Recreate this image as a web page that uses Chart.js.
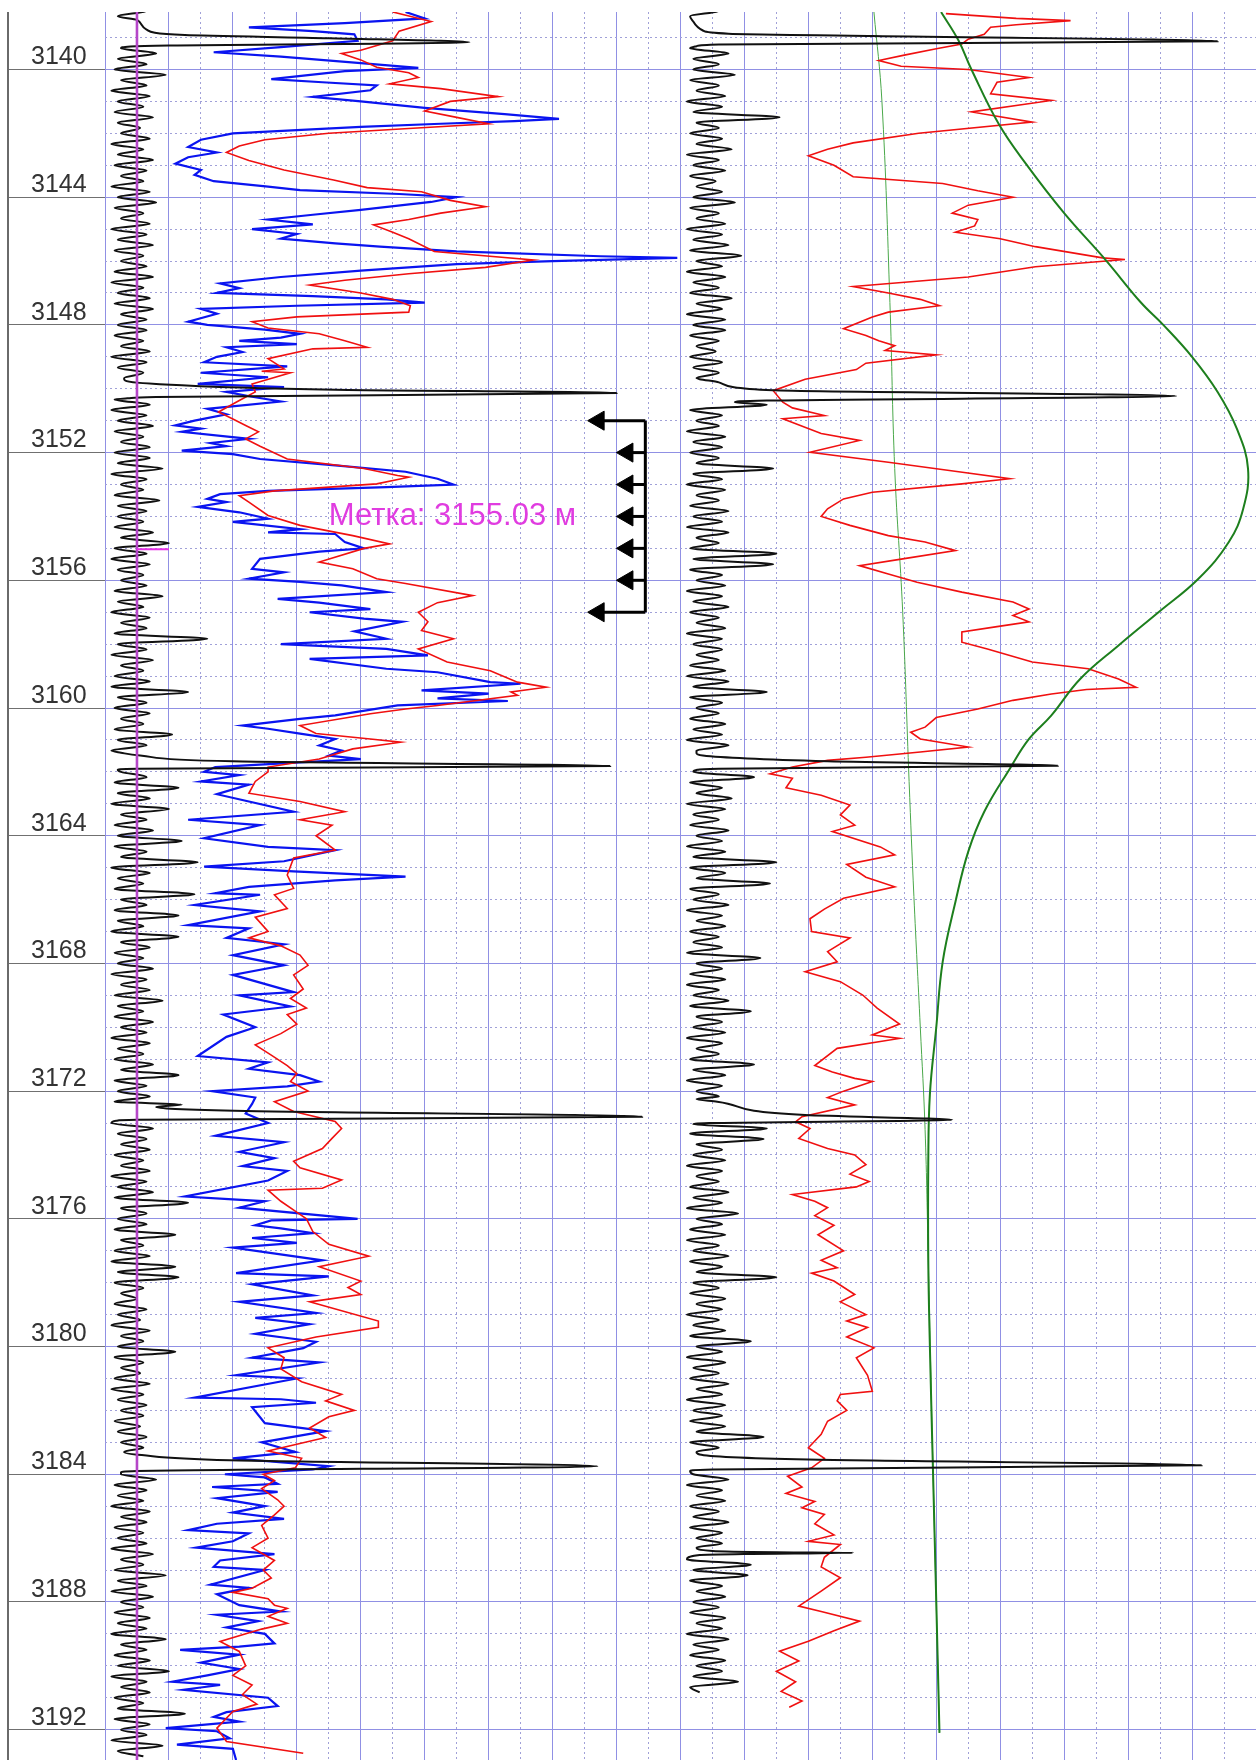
<!DOCTYPE html>
<html>
<head>
<meta charset="utf-8">
<script src="https://cdn.jsdelivr.net/npm/chart.js@4.4.1/dist/chart.umd.min.js"></script>
<style>
  html, body { margin: 0; padding: 0; background: #fff; }
  body { width: 1259px; height: 1760px; position: relative; overflow: hidden; }
  #log { display: block; position: absolute; left: 0; top: 12px; }
</style>
</head>
<body>
<canvas id="log" width="1256" height="1748"></canvas>
<script>
// Depth window (m)
const depthTop = 3138.2;
const depthBottom = 3192.95;

// Collar locator wiggle, track 1: one reading every 1/6 m from 3138.0
const cclStart = 3138.0;
const cclStep = 1 / 6;
const cclWiggle1 = [
  0.6,1.3,0.4,1.5,0.5,1.2,0.3,1.4,0.5,1.6,0.4,1.3,
  0.3,1.9,0.5,1.3,0.2,1.4,0.4,1.2,0.3,1.5,0.4,1.1,
  0.5,1.4,0.2,1.2,0.4,1.5,0.3,1.3,0.5,1.2,0.2,1.4,
  0.4,1.6,0.3,1.2,0.5,1.4,0.2,1.3,0.4,1.5,0.3,1.2,
  0.5,1.3,0.3,1.5,0.2,1.2,0.4,1.4,0.3,1.5,0.5,1.3,
  0.4,1.3,0.3,1.2,0.5,1.4,0.2,1.3,0.4,1.2,0.6,1.5,
  0.5,1.7,0.3,1.4,0.2,1.3,0.4,1.5,0.3,1.2,0.5,1.4,
  0.3,1.4,0.4,1.8,0.2,1.3,0.5,1.2,0.3,1.7,0.4,1.3,
  0.4,1.2,0.3,1.5,0.5,2.0,0.3,1.3,0.2,1.4,0.4,1.2,
  0.5,1.3,0.3,1.8,0.4,1.2,0.2,1.4,0.5,1.3,0.3,3.2,
  0.4,1.3,0.2,1.5,0.5,1.2,0.3,1.4,0.2,2.6,0.4,1.3,
  0.3,1.4,0.5,1.2,0.3,2.1,0.4,1.3,0.2,1.5,0.4,1.3,
  0.5,1.3,0.3,2.3,0.4,1.4,0.2,2.0,0.5,1.3,0.3,1.5,
  0.4,2.4,0.3,1.3,0.5,2.9,0.2,1.4,0.4,1.2,0.3,2.8,
  0.5,1.3,0.3,2.3,0.4,1.2,0.2,2.3,0.5,1.4,0.3,1.2,
  0.4,1.5,0.2,1.3,0.5,1.4,0.3,1.8,0.4,1.2,0.3,1.5,
  0.5,1.3,0.2,1.4,0.4,1.2,0.3,1.5,0.5,2.3,0.3,1.3,
  0.4,1.4,0.3,1.3,0.5,1.2,0.2,1.5,0.4,1.3,0.5,1.4,
  0.3,1.2,0.5,1.4,0.2,1.3,0.4,1.5,0.3,2.6,0.5,1.3,
  0.4,1.3,0.3,2.2,0.5,1.2,0.3,1.4,0.2,2.2,0.4,2.3,
  0.3,1.2,0.5,1.0,0.3,1.3,0.4,1.1,0.2,1.4,0.5,1.2,
  0.4,2.2,0.3,1.2,0.5,1.1,0.3,1.4,0.2,1.2,0.4,1.3,
  0.5,1.2,0.3,1.1,0.4,1.3,0.5,1.2,0.3,1.0,0.6,1.1,
  0.5,1.6,0.3,1.3,0.4,1.2,0.2,1.4,0.5,1.3,0.3,1.2,
  0.4,1.3,0.2,1.5,0.5,1.2,0.3,1.9,0.4,1.3,0.2,1.5,
  0.5,1.2,0.3,1.4,0.4,1.3,0.2,1.9,0.5,1.3,0.3,1.4,
  0.4,2.0,0.2,1.3,0.5,1.4,0.3,1.2,0.4,2.5,0.3,1.4,
  0.5,1.3,0.2,1.8,0.4,1.2
];
// Collar spikes, track 1: [depth, value] vertices
const cclSpikes1 = [
  [[3138.45, 1.0], [3138.75, 1.3], [3138.92, 2.5], [3139.02, 7.0], [3139.15, 11.4], [3139.25, 2.0], [3139.28, 0.8]],
  [[3149.7, 0.6], [3149.85, 1.6], [3150.03, 7.2], [3150.13, 16.0], [3150.26, 1.6], [3150.3, 0.7]],
  [[3161.4, 0.5], [3161.49, 1.1], [3161.67, 4.0], [3161.82, 15.8], [3161.9, 1.0], [3161.93, 0.4]],
  [[3172.35, 0.6], [3172.42, 2.4], [3172.5, 1.6], [3172.56, 2.2], [3172.62, 4.4], [3172.8, 16.8], [3172.9, 1.0], [3172.93, 0.35]],
  [[3183.3, 0.6], [3183.4, 1.15], [3183.56, 3.9], [3183.75, 15.4], [3183.9, 1.0], [3183.94, 0.5]]
];

// Collar locator wiggle, track 2
const cclWiggle2 = [
  0.5,1.2,0.3,1.4,0.5,1.2,0.4,1.3,0.3,1.5,0.4,1.2,
  0.4,1.7,0.3,1.2,0.5,1.4,0.2,1.3,0.4,3.1,0.5,1.2,
  0.3,1.3,0.5,1.6,0.2,1.2,0.4,1.4,0.3,1.1,0.5,1.3,
  0.4,1.7,0.3,1.2,0.5,1.4,0.2,1.3,0.4,1.5,0.3,1.9,
  0.5,1.3,0.2,1.4,0.4,1.2,0.3,1.6,0.5,1.3,0.2,1.4,
  0.4,1.4,0.3,1.2,0.5,1.1,0.3,1.3,0.4,1.2,0.5,1.3,
  0.5,1.4,0.4,2.7,0.3,1.3,0.5,1.2,0.2,1.4,0.4,1.3,
  0.3,1.2,0.5,2.9,0.4,1.3,0.2,1.4,0.5,1.2,0.3,1.5,
  0.4,1.3,0.2,1.5,0.5,1.2,0.3,3.0,0.4,2.9,0.3,1.3,
  0.5,1.4,0.2,1.3,0.4,1.5,0.3,1.2,0.5,1.4,0.2,1.3,
  0.4,1.3,0.5,1.2,0.3,1.4,0.2,1.5,0.4,2.7,0.3,1.3,
  0.5,1.2,0.3,1.4,0.4,1.3,0.2,1.5,0.5,1.2,0.3,1.4,
  0.4,2.3,0.3,1.3,0.5,1.6,0.2,1.4,0.4,1.2,0.3,1.5,
  0.5,1.3,0.2,1.4,0.4,3.0,0.3,1.4,0.5,2.8,0.3,1.2,
  0.4,1.5,0.2,1.3,0.5,1.4,0.3,1.2,0.4,1.3,0.2,2.5,
  0.5,1.3,0.3,1.4,0.2,1.2,0.4,1.5,0.3,2.2,0.5,1.3,
  0.4,1.4,0.2,1.3,0.5,1.2,0.3,2.3,0.4,1.4,0.2,1.3,
  0.5,1.2,0.4,1.3,0.3,1.4,0.4,2.7,0.3,2.6,0.5,1.3,
  0.4,1.4,0.2,1.3,0.5,1.2,0.3,1.5,0.4,1.3,0.2,1.8,
  0.5,1.3,0.3,1.4,0.2,1.2,0.4,1.5,0.3,1.3,0.5,3.0,
  0.4,1.2,0.3,1.4,0.5,1.3,0.2,1.2,0.4,1.4,0.3,2.2,
  0.5,1.3,0.2,1.4,0.4,1.2,0.3,1.5,0.5,1.3,0.2,1.4,
  0.4,1.3,0.3,1.4,0.5,2.6,0.3,1.2,0.4,1.3,0.5,1.2,
  0.4,1.5,0.2,1.3,0.5,1.4,0.3,1.2,0.4,1.5,0.3,1.3,
  0.5,1.3,0.3,1.4,0.2,2.2,0.4,2.1,0.3,1.3,0.5,1.4,
  0.4,1.2,0.3,1.4,0.5,1.3,0.2,1.5,0.4,1.2,0.3,1.4,
  0.5,1.3,0.4,1.8,0.3,0.6
];
const cclSpikes2 = [
  [[3138.5, 0.4], [3138.78, 0.7], [3138.88, 1.5], [3138.95, 6.0], [3139.12, 16.8], [3139.22, 1.2], [3139.27, 0.5]],
  [[3149.7, 0.6], [3149.8, 1.2], [3150.05, 2.9], [3150.23, 15.5], [3150.37, 2.7], [3150.42, 1.7]],
  [[3161.42, 0.5], [3161.49, 0.7], [3161.67, 4.6], [3161.81, 11.8], [3161.9, 1.2], [3161.94, 0.5]],
  [[3172.25, 0.5], [3172.33, 1.15], [3172.75, 3.9], [3172.9, 8.5], [3173.0, 0.9], [3173.04, 0.4]],
  [[3183.3, 0.5], [3183.38, 0.6], [3183.54, 4.0], [3183.72, 16.3], [3183.85, 1.0], [3183.9, 0.3]],
  [[3186.3, 0.5], [3186.4, 1.0], [3186.44, 3.0], [3186.46, 5.4], [3186.5, 2.0], [3186.53, 0.6]]
];

// Track 1 blue curve: [depth, value]
const blueCurve1 = [
  [3138.2,9.4],[3138.4,10.0],[3138.55,7.5],[3138.68,4.5],[3138.8,6.5],[3138.9,7.8],[3139.1,7.9],[3139.3,5.5],
  [3139.46,3.4],[3139.6,5.5],[3139.8,8.0],[3139.95,9.8],[3140.05,7.5],[3140.3,5.2],[3140.4,6.8],[3140.5,8.5],
  [3140.65,8.3],[3140.86,6.5],[3141.0,8.0],[3141.2,10.0],[3141.4,12.5],[3141.55,14.2],[3141.62,12.8],[3141.7,10.5],
  [3141.8,8.0],[3142.0,4.0],[3142.2,3.0],[3142.43,2.6],[3142.6,3.5],[3142.75,2.6],[3142.95,2.2],[3143.15,3.0],
  [3143.3,2.8],[3143.5,3.4],[3143.67,5.1],[3143.78,6.1],[3143.9,9.2],[3144.0,11.0],[3144.15,10.2],[3144.4,8.0],
  [3144.55,6.5],[3144.7,5.1],[3144.85,6.5],[3145.0,4.6],[3145.15,6.0],[3145.3,5.5],[3145.45,7.2],[3145.55,8.6],
  [3145.7,11.0],[3145.85,15.5],[3145.9,17.9],[3146.0,14.0],[3146.1,11.0],[3146.3,8.0],[3146.5,5.5],[3146.7,3.6],
  [3146.85,4.2],[3147.0,3.5],[3147.1,6.5],[3147.2,8.8],[3147.3,10.0],[3147.4,6.0],[3147.5,3.0],[3147.65,3.5],
  [3147.9,2.6],[3148.0,3.2],[3148.15,5.0],[3148.28,6.1],[3148.4,5.5],[3148.5,4.2],[3148.6,6.0],[3148.7,3.8],
  [3148.85,4.3],[3149.0,3.5],[3149.17,3.1],[3149.3,5.7],[3149.5,3.0],[3149.64,5.1],[3149.85,2.9],[3149.95,5.6],
  [3150.1,3.8],[3150.25,4.6],[3150.4,5.5],[3150.63,3.2],[3150.8,3.8],[3151.0,2.8],[3151.15,2.2],[3151.25,3.0],
  [3151.35,2.4],[3151.57,4.5],[3151.7,3.3],[3151.8,3.8],[3151.94,2.4],[3152.05,4.0],[3152.2,4.85],[3152.4,7.2],
  [3152.6,9.4],[3152.82,10.4],[3153.0,10.9],[3153.08,8.8],[3153.2,5.1],[3153.3,3.6],[3153.45,3.2],[3153.55,3.8],
  [3153.7,2.9],[3153.87,4.2],[3154.07,5.1],[3154.17,4.0],[3154.4,6.1],[3154.5,5.1],[3154.55,7.2],[3154.8,7.5],
  [3155.0,8.1],[3155.1,6.7],[3155.33,4.85],[3155.64,4.6],[3155.75,5.6],[3155.95,4.5],[3156.05,6.1],[3156.16,7.4],
  [3156.37,8.8],[3156.58,5.4],[3156.7,6.7],[3156.9,8.3],[3157.0,6.4],[3157.2,8.1],[3157.3,9.3],[3157.6,7.8],
  [3157.83,8.8],[3158.0,5.5],[3158.15,8.8],[3158.35,10.1],[3158.46,6.4],[3158.77,8.8],[3158.88,10.4],[3159.19,12.05],
  [3159.24,13.0],[3159.45,9.9],[3159.55,12.0],[3159.7,10.4],[3159.78,12.6],[3159.92,9.15],[3160.23,7.2],[3160.34,6.1],
  [3160.55,4.3],[3160.65,5.1],[3160.8,6.1],[3160.97,7.2],[3161.17,6.7],[3161.33,7.4],[3161.49,7.0],[3161.6,8.0],
  [3161.7,6.1],[3161.85,3.45],[3162.0,3.1],[3162.1,4.2],[3162.3,3.0],[3162.4,4.5],[3162.7,3.5],[3163.25,5.9],
  [3163.5,2.6],[3163.67,4.85],[3164.08,3.1],[3164.35,5.1],[3164.45,7.2],[3164.8,5.6],[3164.97,3.1],[3165.12,5.9],
  [3165.28,9.4],[3165.4,7.2],[3165.6,4.5],[3165.8,3.45],[3165.85,4.85],[3166.17,2.8],[3166.37,4.85],[3166.8,2.6],
  [3166.9,4.5],[3167.2,3.8],[3167.4,5.6],[3167.74,4.0],[3168.06,5.6],[3168.36,4.0],[3168.9,5.9],[3169.0,4.2],
  [3169.35,5.8],[3169.6,3.7],[3170.0,4.7],[3170.3,3.8],[3170.9,2.9],[3171.1,5.1],[3171.3,4.5],[3171.5,6.1],
  [3171.7,6.7],[3171.85,5.7],[3172.0,3.35],[3172.2,4.7],[3172.4,4.6],[3172.7,4.4],[3173.0,5.1],[3173.4,3.45],
  [3173.6,5.6],[3173.9,4.2],[3174.1,5.3],[3174.35,4.3],[3174.5,5.7],[3174.8,5.1],[3175.3,2.5],[3175.45,5.0],
  [3175.65,4.2],[3176.0,7.9],[3176.05,5.2],[3176.2,4.7],[3176.3,5.5],[3176.45,6.5],[3176.6,4.6],[3176.75,6.0],
  [3176.9,4.0],[3177.3,6.8],[3177.7,4.1],[3177.8,7.0],[3178.05,4.6],[3178.4,6.5],[3178.6,4.2],[3178.95,6.6],
  [3179.1,4.7],[3179.3,6.4],[3179.6,4.7],[3179.85,6.6],[3180.05,6.2],[3180.35,4.6],[3180.5,6.7],[3180.9,4.1],
  [3181.0,6.0],[3181.6,2.8],[3181.65,5.5],[3181.76,6.6],[3181.9,4.6],[3182.4,5.0],[3182.65,6.9],[3183.0,4.9],
  [3183.3,5.95],[3183.5,4.0],[3183.75,7.0],[3183.85,6.5],[3184.0,3.75],[3184.1,5.0],[3184.3,5.4],[3184.4,3.35],
  [3184.55,5.4],[3184.75,3.5],[3185.0,5.0],[3185.2,4.0],[3185.4,5.6],[3185.55,3.5],[3185.75,2.6],[3185.85,4.5],
  [3186.1,4.0],[3186.3,2.85],[3186.5,5.3],[3186.7,3.6],[3186.9,3.4],[3187.0,5.0],[3187.46,3.3],[3187.56,4.5],
  [3187.76,3.5],[3188.1,4.2],[3188.3,5.5],[3188.4,3.5],[3188.6,4.8],[3188.8,3.8],[3189.0,5.0],[3189.3,5.3],
  [3189.4,4.2],[3189.5,2.35],[3189.65,4.2],[3189.9,3.0],[3190.1,4.2],[3190.3,3.2],[3190.5,2.1],[3190.6,3.6],
  [3190.75,2.45],[3191.0,5.1],[3191.26,5.4],[3191.45,3.8],[3191.6,3.4],[3191.75,4.2],[3191.95,1.9],[3192.05,3.5],
  [3192.27,3.9],[3192.47,2.25],[3192.6,4.0],[3192.95,4.1]
];

// Track 1 red curve
const redCurve1 = [
  [3138.2,9.0],[3138.5,10.2],[3138.8,9.2],[3139.1,9.0],[3139.4,8.0],[3139.5,7.4],[3139.7,8.0],[3139.93,8.5],
  [3140.1,9.5],[3140.25,9.8],[3140.45,8.9],[3140.6,10.5],[3140.85,12.3],[3141.0,10.8],[3141.3,10.0],[3141.5,11.0],
  [3141.7,12.0],[3141.85,9.5],[3142.0,7.0],[3142.2,5.0],[3142.4,4.2],[3142.6,3.8],[3142.85,4.5],[3143.15,5.6],
  [3143.46,7.15],[3143.7,8.2],[3143.83,9.9],[3144.1,10.8],[3144.3,11.9],[3144.5,10.5],[3144.7,9.5],[3144.87,8.4],
  [3145.1,9.0],[3145.3,9.5],[3145.7,10.3],[3145.97,13.4],[3146.2,11.9],[3146.4,9.5],[3146.6,7.5],[3146.75,6.4],
  [3147.0,8.0],[3147.2,9.0],[3147.4,9.55],[3147.6,9.5],[3147.75,6.0],[3147.9,4.6],[3148.1,5.1],[3148.28,6.7],
  [3148.5,7.5],[3148.7,8.2],[3148.75,6.5],[3149.06,5.1],[3149.38,5.6],[3149.45,4.9],[3149.5,5.8],[3149.85,4.6],
  [3150.1,4.7],[3150.37,4.2],[3150.73,3.55],[3150.95,4.0],[3151.15,4.4],[3151.35,4.8],[3151.57,4.4],[3151.8,4.85],
  [3152.2,5.7],[3152.5,8.1],[3152.72,9.15],[3152.77,9.5],[3152.98,8.5],[3153.2,5.3],[3153.35,4.2],[3153.55,4.5],
  [3153.97,5.1],[3154.28,6.1],[3154.6,7.75],[3154.86,8.9],[3155.0,8.1],[3155.43,6.7],[3155.64,7.75],[3155.95,8.5],
  [3156.1,9.4],[3156.48,11.5],[3156.7,10.4],[3157.0,9.8],[3157.3,10.1],[3157.57,9.9],[3157.83,10.9],[3158.15,9.8],
  [3158.56,10.7],[3158.83,12.05],[3159.19,12.9],[3159.35,13.8],[3159.5,12.7],[3159.6,12.9],[3159.92,10.4],[3160.03,9.4],
  [3160.18,8.3],[3160.55,6.1],[3160.8,6.6],[3160.97,8.3],[3161.07,9.25],[3161.28,7.75],[3161.6,6.7],[3161.85,5.1],
  [3162.0,5.1],[3162.3,4.7],[3162.67,4.5],[3162.93,6.1],[3163.25,7.5],[3163.5,6.1],[3163.67,7.1],[3164.0,6.6],
  [3164.45,7.2],[3164.7,5.9],[3165.23,5.7],[3165.65,5.9],[3165.85,5.3],[3166.28,5.7],[3166.55,4.7],[3167.0,5.1],
  [3167.2,4.5],[3167.45,5.5],[3167.74,6.1],[3168.06,6.35],[3168.36,5.9],[3168.8,6.2],[3169.1,5.8],[3169.4,6.3],
  [3169.6,5.7],[3169.9,6.0],[3170.2,5.5],[3170.55,4.7],[3170.87,5.2],[3171.2,5.7],[3171.45,6.0],[3171.7,5.8],
  [3172.0,6.35],[3172.33,5.3],[3172.64,5.9],[3172.95,7.2],[3173.17,7.4],[3173.48,7.1],[3173.8,6.8],[3174.2,5.9],
  [3174.4,6.1],[3174.78,7.4],[3175.04,6.8],[3175.1,5.1],[3175.45,5.5],[3175.76,5.95],[3176.0,6.3],[3176.4,6.5],
  [3176.8,7.0],[3177.17,8.25],[3177.5,6.7],[3177.95,8.0],[3178.15,7.6],[3178.37,8.0],[3178.6,6.4],[3179.2,8.55],
  [3179.4,8.55],[3179.7,6.6],[3180.04,5.1],[3180.35,5.6],[3180.7,5.5],[3181.1,6.15],[3181.5,7.4],[3181.7,6.9],
  [3182.0,7.8],[3182.2,7.0],[3182.55,6.4],[3182.85,6.9],[3183.27,5.1],[3183.5,6.15],[3183.8,5.95],[3184.0,4.95],
  [3184.2,5.3],[3184.45,4.9],[3184.8,5.4],[3185.0,5.6],[3185.27,5.3],[3185.6,4.9],[3186.0,5.1],[3186.3,4.6],
  [3186.7,5.3],[3187.0,4.95],[3187.25,5.2],[3187.57,4.6],[3187.7,4.0],[3187.9,5.1],[3188.1,5.3],[3188.2,5.7],
  [3188.45,5.1],[3188.67,5.7],[3188.85,4.9],[3189.24,3.6],[3189.55,4.2],[3190.0,4.4],[3190.3,4.0],[3190.6,4.6],
  [3190.9,4.3],[3191.2,4.75],[3191.43,4.0],[3191.95,3.5],[3192.37,3.8],[3192.74,6.2]
];

// Track 2 red curve
const redCurve2 = [
  [3138.25,8.3],[3138.4,10.5],[3138.47,12.2],[3138.6,10.5],[3138.68,9.7],[3138.9,9.5],[3139.05,9.0],[3139.2,8.8],
  [3139.35,8.0],[3139.55,7.0],[3139.72,6.2],[3139.9,6.9],[3140.0,9.0],[3140.25,10.9],[3140.4,9.9],[3140.76,9.7],
  [3140.97,11.6],[3141.33,9.1],[3141.65,11.0],[3142.0,7.45],[3142.3,5.4],[3142.5,4.6],[3142.7,4.0],[3143.0,4.8],
  [3143.36,5.4],[3143.57,8.2],[3143.8,9.3],[3144.0,10.4],[3144.25,9.0],[3144.5,8.5],[3144.7,9.3],[3144.9,9.2],
  [3145.1,8.6],[3145.3,10.0],[3145.55,11.1],[3145.9,13.2],[3145.95,13.9],[3146.18,11.1],[3146.5,9.0],[3146.8,5.4],
  [3147.0,6.5],[3147.2,7.5],[3147.4,8.1],[3147.6,6.5],[3147.75,6.0],[3148.12,5.1],[3148.33,5.8],[3148.5,6.2],
  [3148.65,6.7],[3148.8,6.4],[3148.94,8.0],[3149.2,5.8],[3149.4,5.5],[3149.7,3.9],[3150.06,2.9],[3150.42,3.2],
  [3150.6,3.5],[3150.84,4.5],[3150.94,3.2],[3151.4,4.4],[3151.62,5.6],[3151.99,4.05],[3152.3,6.5],[3152.6,8.7],
  [3152.82,10.3],[3152.98,8.8],[3153.24,6.0],[3153.45,5.1],[3153.76,4.6],[3154.0,4.4],[3154.28,5.3],[3154.6,6.5],
  [3154.8,7.65],[3155.07,8.6],[3155.33,6.95],[3155.54,5.6],[3155.8,6.5],[3156.06,7.4],[3156.37,8.8],[3156.68,10.4],
  [3156.9,10.9],[3157.1,10.4],[3157.3,10.9],[3157.45,9.9],[3157.62,8.8],[3157.94,8.8],[3158.15,9.6],[3158.56,11.0],
  [3158.77,12.75],[3159.09,13.7],[3159.35,14.25],[3159.42,12.7],[3159.56,11.6],[3159.76,10.4],[3160.03,9.3],[3160.3,8.0],
  [3160.6,7.65],[3160.76,7.2],[3160.97,7.5],[3161.22,9.0],[3161.38,7.5],[3161.54,5.8],[3161.64,4.6],[3161.85,3.5],
  [3162.06,2.8],[3162.2,3.5],[3162.5,3.3],[3162.73,4.4],[3163.04,5.3],[3163.35,5.0],[3163.67,5.45],[3163.87,4.75],
  [3164.35,6.25],[3164.6,6.7],[3164.9,5.2],[3165.3,5.8],[3165.6,6.7],[3165.96,5.1],[3166.3,4.5],[3166.6,4.05],
  [3167.0,4.1],[3167.2,5.3],[3167.63,4.6],[3167.95,4.9],[3168.26,3.9],[3168.57,5.0],[3168.99,5.7],[3169.4,6.15],
  [3169.9,6.85],[3170.24,6.0],[3170.35,6.85],[3170.66,4.9],[3171.2,4.2],[3171.4,4.75],[3171.6,5.45],[3171.7,6.0],
  [3172.0,5.1],[3172.2,4.6],[3172.43,5.45],[3172.8,3.8],[3172.96,3.6],[3173.17,4.05],[3173.48,3.7],[3173.8,4.6],
  [3174.0,5.45],[3174.3,5.8],[3174.6,5.3],[3174.83,5.9],[3175.0,5.5],[3175.24,3.5],[3175.45,4.2],[3175.65,4.6],
  [3175.9,4.2],[3176.2,4.8],[3176.5,4.3],[3177.0,5.1],[3177.3,4.4],[3177.53,4.9],[3177.7,4.1],[3177.95,4.8],
  [3178.37,5.45],[3178.6,5.0],[3179.0,5.8],[3179.2,5.2],[3179.4,5.85],[3179.7,5.2],[3180.04,6.05],[3180.35,5.5],
  [3180.9,5.85],[3181.4,6.0],[3181.5,5.0],[3181.7,4.9],[3182.0,5.2],[3182.34,4.6],[3182.75,4.4],[3183.17,4.0],
  [3183.5,4.5],[3183.8,4.1],[3184.06,3.35],[3184.4,3.8],[3184.6,3.3],[3184.85,4.2],[3185.05,3.8],[3185.26,4.5],
  [3185.55,4.2],[3185.9,4.8],[3186.1,4.0],[3186.2,5.0],[3186.6,4.5],[3186.9,4.4],[3187.24,5.0],[3187.66,4.4],
  [3188.13,3.7],[3188.3,4.4],[3188.6,5.6],[3188.9,4.8],[3189.23,4.0],[3189.54,3.1],[3189.85,3.7],[3190.17,3.0],
  [3190.5,3.6],[3190.8,3.15],[3191.1,3.8],[3191.3,3.4]
];

// Track 2 green curves
const greenThick2 = [
  [3138.2,8.15],[3139.1,8.7],[3140.0,9.1],[3141.7,9.95],[3142.95,10.8],[3144.5,12.0],[3145.97,13.3],[3147.3,14.4],
  [3148.0,15.1],[3149.0,16.0],[3150.1,16.8],[3151.25,17.4],[3152.5,17.75],[3153.76,17.6],[3154.8,17.15],[3155.95,16.2],
  [3157.0,14.95],[3158.04,13.7],[3159.09,12.5],[3160.23,11.6],[3160.97,10.9],[3161.9,10.3],[3163.25,9.5],[3164.5,9.0],
  [3166.07,8.6],[3167.95,8.2],[3170.0,8.0],[3172.1,7.8],[3174.2,7.75],[3177.3,7.75],[3180.0,7.8],[3184.0,7.9],
  [3188.0,8.0],[3192.1,8.1]
];
const greenThin2 = [
  [3138.2,6.05],[3141.0,6.3],[3147.3,6.55],[3152.5,6.7],[3157.0,6.95],[3162.3,7.15],[3165.9,7.3],[3170.0,7.5],
  [3173.2,7.65],[3177.3,7.75],[3184.0,7.9],[3192.1,8.1]
];

// Marker and perforation bracket
const markDepth = 3155.03;
const markLine = 1.0;
const markTickEnd = 2.0;
const perfDepths = [3151, 3152, 3153, 3154, 3155, 3156, 3157];
const perfTips = [15.1, 16.0, 16.0, 16.0, 16.0, 16.0, 15.1];
const perfBase = 16.9;

// ---- build datasets ----
const toXY = pairs => pairs.map(([d, v]) => ({ x: v, y: d }));

function cclPoints(values, spikes) {
  const pts = [];
  values.forEach((v, i) => {
    const d = cclStart + i * cclStep;
    const inSpike = spikes.some(s => d >= s[0][0] && d <= s[s.length - 1][0]);
    if (!inSpike) pts.push({ x: v, y: d });
  });
  spikes.forEach(s => s.forEach(([d, v]) => pts.push({ x: v, y: d })));
  return pts.sort((a, b) => a.y - b.y);
}

function curve(points, color, width, xAxisID, order, extra) {
  return Object.assign({
    data: points,
    xAxisID,
    yAxisID: 'y',
    showLine: true,
    borderColor: color,
    borderWidth: width,
    pointRadius: 0,
    tension: 0,
    order
  }, extra || {});
}

// depth runs down the y axis, so smooth along it
const smoothAlongDepth = { indexAxis: 'y', cubicInterpolationMode: 'monotone' };

const datasets = [
  curve(toXY(blueCurve1), '#0a14f0', 2.2, 'x', 9),
  curve(toXY(redCurve1), '#f01010', 1.6, 'x', 8),
  curve(cclPoints(cclWiggle1, cclSpikes1), '#111111', 2, 'x', 7, smoothAlongDepth),
  curve([{ x: markLine, y: depthTop - 1 }, { x: markLine, y: depthBottom + 1 }], '#b546c8', 2.6, 'x', 6),
  curve([{ x: markLine, y: markDepth }, { x: markTickEnd, y: markDepth }], '#e632e6', 2, 'x', 5),
  curve([{ x: perfBase, y: perfDepths[0] }, { x: perfBase, y: perfDepths[perfDepths.length - 1] }], '#000', 3, 'x', 2)
];
perfDepths.forEach((d, i) => {
  datasets.push(curve([{ x: perfBase, y: d }, { x: perfTips[i] + 0.3, y: d }], '#000', 3, 'x', 2));
});
// arrow heads: centre sits one radius (11 px ~ 0.34 div) behind the tip
datasets.push({
  data: perfDepths.map((d, i) => ({ x: perfTips[i] + 0.34, y: d })),
  xAxisID: 'x', yAxisID: 'y',
  showLine: false,
  pointStyle: 'triangle',
  rotation: 270,
  pointRadius: 11,
  pointBackgroundColor: '#000',
  pointBorderColor: '#000',
  pointBorderWidth: 1,
  order: 1
});

datasets.push(
  curve(toXY(greenThin2), '#4aa84a', 1, 'x2', 12, { tension: 0.4 }),
  curve(toXY(redCurve2), '#f01010', 1.6, 'x2', 11),
  curve(toXY(greenThick2), '#1d7f1d', 2, 'x2', 10, { tension: 0.4 }),
  curve(cclPoints(cclWiggle2, cclSpikes2), '#111111', 2, 'x2', 3, smoothAlongDepth)
);

// ---- grid helpers ----
const near = (v, m) => Math.abs(v / m - Math.round(v / m)) < 1e-6;
const isMajorX = v => near(v, 4) || near(v, 18) || near(v - 18, 4);
const isMajorY = v => near(v, 4);
const majorColor = '#9090e4';
const minorColor = '#a0a0d8';
const labelInset = 31;

const leftRule = {
  id: 'leftRule',
  beforeDatasetsDraw(chart) {
    const { ctx, chartArea, scales } = chart;
    const x = chartArea.left - scales.y.options.grid.tickLength;
    ctx.save();
    ctx.strokeStyle = '#6a6a6a';
    ctx.lineWidth = 2;
    ctx.beginPath();
    ctx.moveTo(x, chartArea.top);
    ctx.lineTo(x, chartArea.bottom);
    ctx.stroke();
    ctx.restore();
  }
};

// depth labels sit just above their major grid line, left aligned
const depthLabels = {
  id: 'depthLabels',
  afterDraw(chart) {
    const { ctx, scales } = chart;
    const y = scales.y;
    ctx.save();
    ctx.font = '25px "Liberation Sans", Arial, sans-serif';
    ctx.fillStyle = '#333';
    ctx.textAlign = 'left';
    ctx.textBaseline = 'middle';
    y.ticks.forEach(t => {
      if (isMajorY(t.value)) ctx.fillText(String(Math.round(t.value)), y.left + labelInset, y.getPixelForValue(t.value) - 12);
    });
    ctx.restore();
  }
};

const markLabel = {
  id: 'markLabel',
  afterDatasetsDraw(chart) {
    const { ctx, scales } = chart;
    ctx.save();
    ctx.font = '31px "Liberation Sans", Arial, sans-serif';
    ctx.fillStyle = '#e03ce0';
    ctx.textBaseline = 'middle';
    ctx.textAlign = 'left';
    ctx.fillText('Метка: ' + markDepth.toFixed(2) + ' м', scales.x.getPixelForValue(7.0), scales.y.getPixelForValue(3154.0));
    ctx.restore();
  }
};

new Chart(document.getElementById('log'), {
  type: 'scatter',
  data: { datasets },
  options: {
    responsive: false,
    animation: false,
    events: [],
    layout: { autoPadding: false, padding: 0 },
    plugins: { legend: { display: false }, tooltip: { enabled: false } },
    scales: {
      x: {
        type: 'linear', min: 0, max: 36, position: 'bottom',
        ticks: { display: false, stepSize: 1 },
        grid: {
          drawTicks: false,
          lineWidth: 1,
          color: c => isMajorX(c.tick.value) ? majorColor : minorColor
        },
        border: { display: false, dash: c => (c.tick && !isMajorX(c.tick.value)) ? [2, 3] : [] },
        afterFit(scale) {
          scale.height = 0;
          scale.paddingLeft = 0;
          scale.paddingRight = 0;
        }
      },
      x2: { type: 'linear', min: -18, max: 18, display: false },
      y: {
        type: 'linear', reverse: true, min: depthTop, max: depthBottom,
        ticks: { display: false, stepSize: 1, autoSkip: false, includeBounds: false },
        grid: {
          drawTicks: true,
          tickLength: 97,
          tickWidth: 1,
          tickColor: c => isMajorY(c.tick.value) ? '#707070' : 'rgba(0,0,0,0)',
          lineWidth: 1,
          color: c => isMajorY(c.tick.value) ? majorColor : minorColor
        },
        border: { display: false, dash: c => (c.tick && !isMajorY(c.tick.value)) ? [2, 3] : [] },
        afterFit(scale) {
          scale.width = 105;
          scale.paddingTop = 0;
          scale.paddingBottom = 0;
        }
      }
    }
  },
  plugins: [leftRule, depthLabels, markLabel]
});
</script>
</body>
</html>
